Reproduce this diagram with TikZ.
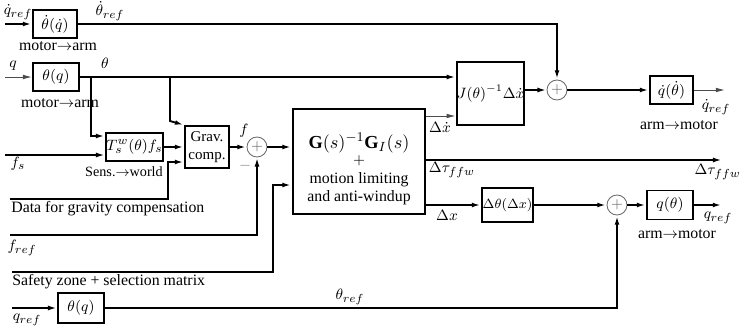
\documentclass[tikz,border=0pt]{standalone}
\usepackage{fontspec}
\setmainfont{Liberation Serif}
\usetikzlibrary{arrows.meta,calc}
\begin{document}
\begin{tikzpicture}[x=0.6pt,y=-0.6pt,
  blk/.style={draw,line width=1.1pt,inner sep=0pt,font=\fontsize{9.5}{11}\selectfont},
  sumc/.style={draw=black!60,circle,line width=0.5pt,minimum size=12pt,inner sep=0pt,text=black!60,font=\fontsize{9}{10}\selectfont},
  sig/.style={line width=1.1pt,-{Latex[length=5.5pt,width=2.8pt]}},
  sigT/.style={line width=1.7pt,-{Latex[length=5.5pt,width=3pt]}},
  sigt/.style={line width=0.6pt,draw=black!70,-{Latex[length=5.5pt,width=2.8pt]}},
  lbl/.style={inner sep=0pt,font=\fontsize{9.5}{11}\selectfont},
]
\useasboundingbox (0,0) rectangle (743,331);
% blocks
\node[blk,minimum width=26.4pt,minimum height=16.8pt] (B1) at (55,24) {$\dot\theta(\dot q)$};
\node[blk,minimum width=27.6pt,minimum height=16.8pt] (B2) at (56,77) {$\theta(q)$};
\node[blk,minimum width=34.2pt,minimum height=16.8pt] (T) at (134.5,147) {$T_s^w(\theta)f_s$};
\node[blk,minimum width=26.4pt,minimum height=25.2pt,align=center,font=\fontsize{9}{10.5}\selectfont] (G) at (207,147) {Grav.\\comp.};
\node[sumc] (S1) at (257,147) {$+$};
\node[blk,line width=1.7pt,minimum width=79.2pt,minimum height=63pt] (M) at (359,161.5) {};
\node[lbl,align=center] (Mtxt) at (359,169) {{\fontsize{11}{12}\selectfont$\mathbf{G}(s)^{-1}\mathbf{G}_I(s)$}\\[-1pt]$+$\\motion limiting\\and anti-windup};
\node[blk,minimum width=39pt,minimum height=37.8pt,font=\fontsize{8.8}{10}\selectfont] (J) at (490.5,93.5) {$J(\theta)^{-1}\Delta\dot x$};
\node[sumc] (S2) at (557,90) {$+$};
\node[blk,minimum width=25.8pt,minimum height=16.8pt] (Qd) at (671.5,90) {$\dot q(\dot\theta)$};
\node[blk,minimum width=30.6pt,minimum height=20.4pt,font=\fontsize{8.5}{10}\selectfont] (DT) at (507.5,205) {$\Delta\theta(\Delta x)$};
\node[sumc] (S3) at (617,205) {$+$};
\node[blk,minimum width=27.6pt,minimum height=17.4pt] (Q) at (670,205) {$q(\theta)$};
\node[blk,minimum width=27.6pt,minimum height=18pt] (B3) at (81,308) {$\theta(q)$};
% coordinates
\coordinate (in1) at (5,24);
\coordinate (c1) at (557,24);
\coordinate (in2) at (5,77);
\coordinate (br1) at (91,77);
\coordinate (br2) at (170,77);
\coordinate (br2b) at (170,121);
\coordinate (fs) at (5,155);
\coordinate (dat) at (10,199);
\coordinate (dk) at (168,162);
\coordinate (fr) at (10,235);
\coordinate (sz) at (12,272);
\coordinate (szk) at (273,185);
\coordinate (tauout) at (722,160);
\coordinate (qout) at (722,205);
\coordinate (qdout) at (725,90);
\coordinate (qr) at (12,308);
% connectors
\draw[sig] (in1) -- (B1);
\draw[sig] (B1) -- (c1) -- (S2);
\draw[sigt] (in2) -- (B2);
\draw[sigT] (B2) -- (J.west |- B2.east);
\draw[sig] (br1) |- (T.west |- 0,136);
\draw[sig] (br2) -- (br2b) -- (G.north west);
\draw[sigT] (fs) -- (T.west |- fs);
\draw[sig] (T) -- (G);
\draw[sig] (dat) -| (dk) -- (G.west |- dk);
\draw[sig] (G) -- (S1);
\draw[sigT] (fr) -| (S1.south);
\draw[sig] (sz) -| (szk) -- (M.west |- szk);
\draw[sig] (S1) -- (M.west |- S1);
\draw[sigt] (M.east |- 0,116) -- (J.west |- 0,116);
\draw[sigT] (M.east |- tauout) -- (tauout);
\draw[sig] (M.east |- DT.west) -- (DT.west);
\draw[sig] (DT) -- (S3);
\draw[sig] (S3) -- (Q);
\draw[sig] (Q) -- (qout);
\draw[sigT] (J.east |- S2) -- (S2);
\draw[sig] (S2) -- (Qd);
\draw[sigt] (Qd) -- (qdout);
\draw[sigT] (qr) -- (B3);
\draw[sig] (B3) -| (S3.south);
% labels
\node[lbl] (lqd) at (18,12) {$\dot q_{ref}$};
\node[lbl] (lthd) at (110,11) {$\dot\theta_{ref}$};
\node[lbl] (m2a1) at (58,46) {motor$\rightarrow$arm};
\node[lbl] (lq) at (13,66) {$q$};
\node[lbl] (lth) at (105,63) {$\theta$};
\node[lbl] (m2a2) at (60,103) {motor$\rightarrow$arm};
\node[lbl] (lfs) at (18,164) {$f_s$};
\node[lbl,font=\fontsize{8.5}{10}\selectfont] (s2w) at (124,172) {Sens.$\rightarrow$world};
\node[lbl,anchor=west] (ldata) at (11,209) {Data for gravity compensation};
\node[lbl] (lf) at (244,131) {$f$};
\node[lbl,text=black!50] (minus) at (245,166) {$-$};
\node[lbl] (lfr) at (22,248) {$f_{ref}$};
\node[lbl,anchor=west] (lsz) at (12,282) {Safety zone + selection matrix};
\node[lbl] (lqr) at (27,320) {$q_{ref}$};
\node[lbl] (lthr) at (350,297) {$\theta_{ref}$};
\node[lbl] (ldxd) at (440,127) {$\Delta\dot x$};
\node[lbl] (ltau1) at (452,170) {$\Delta\tau_{ffw}$};
\node[lbl,anchor=east] (ltau2) at (741,172) {$\Delta\tau_{ffw}$};
\node[lbl] (ldx) at (447,215) {$\Delta x$};
\node[lbl] (lqr2) at (718,218) {$q_{ref}$};
\node[lbl] (a2m2) at (677,234) {arm$\rightarrow$motor};
\node[lbl] (lqdr) at (716,107) {$\dot q_{ref}$};
\node[lbl] (a2m1) at (679,125) {arm$\rightarrow$motor};
\end{tikzpicture}
\end{document}
